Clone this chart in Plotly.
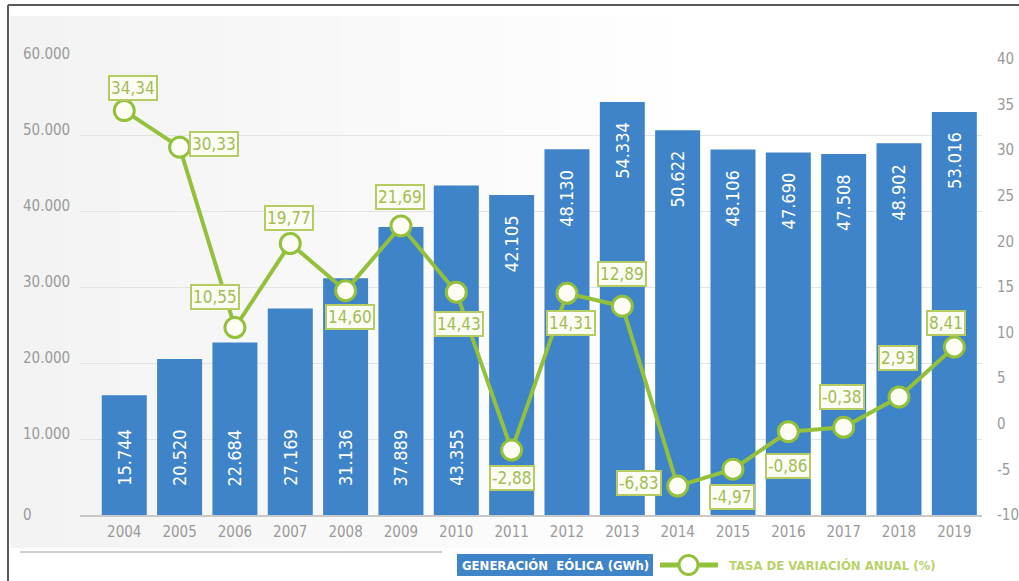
import plotly.graph_objects as go

# Wind generation in Spain and its annual rate of change
years = ["2004", "2005", "2006", "2007", "2008", "2009", "2010", "2011",
         "2012", "2013", "2014", "2015", "2016", "2017", "2018", "2019"]
generacion_gwh = [15744, 20520, 22684, 27169, 31136, 37889, 43355, 42105,
                  48130, 54334, 50622, 48106, 47690, 47508, 48902, 53016]
variacion_pct = [34.34, 30.33, 10.55, 19.77, 14.60, 21.69, 14.43, -2.88,
                 14.31, 12.89, -6.83, -4.97, -0.86, -0.38, 2.93, 8.41]

left_ticks = [0, 10000, 20000, 30000, 40000, 50000, 60000]
right_ticks = [-10, -5, 0, 5, 10, 15, 20, 25, 30, 35, 40]

# pixel offsets of each rate label relative to its point (x right, y up)
rate_label_offsets = [(9, 23), (34, 3), (-20, 31), (-1, 26), (4, -26), (-1, 29),
                      (3, -32), (0, -28), (4, -30), (0, 32), (-39, 3), (-1, -28),
                      (0, -34), (-2, 30), (-1, 39), (-8, 24)]
# bar values are written near the base up to 2010, near the top afterwards
value_at_top = [int(y) >= 2011 for y in years]

FONT = "Liberation Sans Narrow, DejaVu Sans Condensed, Arial Narrow, sans-serif"
BLUE = "#3f83c8"
GREEN = "#93c13b"
LABEL_GREEN = "#a3bd52"
GRAY_TEXT = "#9a9a9a"

W, H = 1019, 581
L, R, T, B = 80, 37, 59, 66
PW, PH = W - L - R, H - T - B


def px(x):
    return (x - L) / PW


def py(y):
    return (H - B - y) / PH


def miles(v):
    return f"{v:,}".replace(",", ".")


def decimal(v):
    return f"{v:.2f}".replace(".", ",")


fig = go.Figure()

fig.add_trace(go.Bar(
    x=years, y=generacion_gwh, marker=dict(color=BLUE, line=dict(width=0)),
    name="GENERACIÓN EÓLICA (GWh)", showlegend=False, hoverinfo="x+y",
))

fig.add_trace(go.Scatter(
    x=years, y=variacion_pct, yaxis="y2", mode="lines+markers",
    line=dict(color=GREEN, width=4),
    marker=dict(size=20, color="#fdfdf6", line=dict(color=GREEN, width=3)),
    name="TASA DE VARIACIÓN ANUAL (%)", showlegend=False, cliponaxis=False,
))

annotations = []

# bar value labels, rotated inside the bars (x given as category index)
for i, (v, top) in enumerate(zip(generacion_gwh, value_at_top)):
    if top:
        annotations.append(dict(x=i, y=v, xref="x", yref="y", text=miles(v),
                                textangle=-90, showarrow=False, xanchor="center",
                                yanchor="top", yshift=-18,
                                font=dict(family=FONT, size=18, color="white")))
    else:
        annotations.append(dict(x=i, y=0, xref="x", yref="y", text=miles(v),
                                textangle=-90, showarrow=False, xanchor="center",
                                yanchor="bottom", yshift=27,
                                font=dict(family=FONT, size=18, color="white")))

# rate labels in outlined boxes
for i, (v, (dx, dy)) in enumerate(zip(variacion_pct, rate_label_offsets)):
    annotations.append(dict(x=i, y=v, xref="x", yref="y2", text=decimal(v),
                            showarrow=False, xanchor="center", yanchor="middle",
                            xshift=dx, yshift=dy,
                            bgcolor="#fbfcf4", bordercolor="#b5cc63", borderwidth=2,
                            borderpad=1,
                            font=dict(family=FONT, size=17, color=LABEL_GREEN)))

# left axis labels, left aligned
for t in left_ticks:
    annotations.append(dict(x=0, y=t, xref="paper", yref="y", text=miles(t),
                            showarrow=False, xanchor="left", yanchor="middle",
                            xshift=-59, yshift=5 if t else 0,
                            font=dict(family=FONT, size=15, color=GRAY_TEXT)))

# legend texts
annotations.append(dict(x=px(555), y=py(565), xref="paper", yref="paper",
                        text="<b>GENERACIÓN  EÓLICA (GWh)</b>", showarrow=False,
                        xanchor="center", yanchor="middle",
                        font=dict(family=FONT, size=13, color="white")))
annotations.append(dict(x=px(727), y=py(565), xref="paper", yref="paper",
                        text="<b>TASA DE VARIACIÓN ANUAL (%)</b>", showarrow=False,
                        xanchor="left", yanchor="middle",
                        font=dict(family=FONT, size=13, color="#b9d26a")))

shapes = []

# soft grey wash fading out to the right
for k in range(1, 13):
    shapes.append(dict(type="rect", xref="paper", yref="paper", layer="below",
                       x0=px(10), x1=px(10 + k * 55), y0=py(548), y1=py(16),
                       fillcolor="#c8c8c8", opacity=0.018, line=dict(width=0)))

# frame lines
shapes.append(dict(type="line", xref="paper", yref="paper", x0=px(8), x1=px(W + 5),
                   y0=py(5), y1=py(5), line=dict(color="#5a5a5a", width=2)))
shapes.append(dict(type="line", xref="paper", yref="paper", x0=px(8), x1=px(8),
                   y0=py(5), y1=py(H + 5), line=dict(color="#5a5a5a", width=2)))
shapes.append(dict(type="line", xref="paper", yref="paper", x0=px(20), x1=px(442),
                   y0=py(552), y1=py(552), line=dict(color="#cfcfcf", width=2)))

# legend marks
shapes.append(dict(type="rect", xref="paper", yref="paper", x0=px(457), x1=px(653),
                   y0=py(576), y1=py(554), fillcolor=BLUE, line=dict(width=0)))
shapes.append(dict(type="line", xref="paper", yref="paper", x0=px(660), x1=px(718),
                   y0=py(565), y1=py(565), line=dict(color=GREEN, width=5)))
shapes.append(dict(type="circle", xref="paper", yref="paper", x0=px(679), x1=px(698),
                   y0=py(574.5), y1=py(555.5), fillcolor="white",
                   line=dict(color=GREEN, width=3)))

fig.update_layout(
    width=W, height=H,
    margin=dict(l=L, r=R, t=T, b=B, autoexpand=False),
    paper_bgcolor="white", plot_bgcolor="rgba(0,0,0,0)",
    bargap=0.187,
    font=dict(family=FONT, color=GRAY_TEXT),
    xaxis=dict(type="category", range=[-0.8, 15.5], showgrid=False,
               showline=True, linecolor="#c8c8c8", linewidth=2, ticks="",
               tickfont=dict(family=FONT, size=15, color=GRAY_TEXT),
               ticklabelstandoff=2, fixedrange=True, automargin=False),
    yaxis=dict(range=[0, 60000], tickvals=left_ticks, showticklabels=False,
               showgrid=True, gridcolor="#e3e3e3", gridwidth=1, zeroline=False,
               ticks="", fixedrange=True, automargin=False),
    yaxis2=dict(range=[-10, 40], overlaying="y", side="right", tickvals=right_ticks,
                ticktext=[str(t) for t in right_ticks], showgrid=False, zeroline=False,
                ticks="", ticklabelstandoff=14, automargin=False,
                tickfont=dict(family=FONT, size=15, color=GRAY_TEXT), fixedrange=True),
    annotations=annotations,
    shapes=shapes,
    showlegend=False,
)

fig.write_html("out.html")
